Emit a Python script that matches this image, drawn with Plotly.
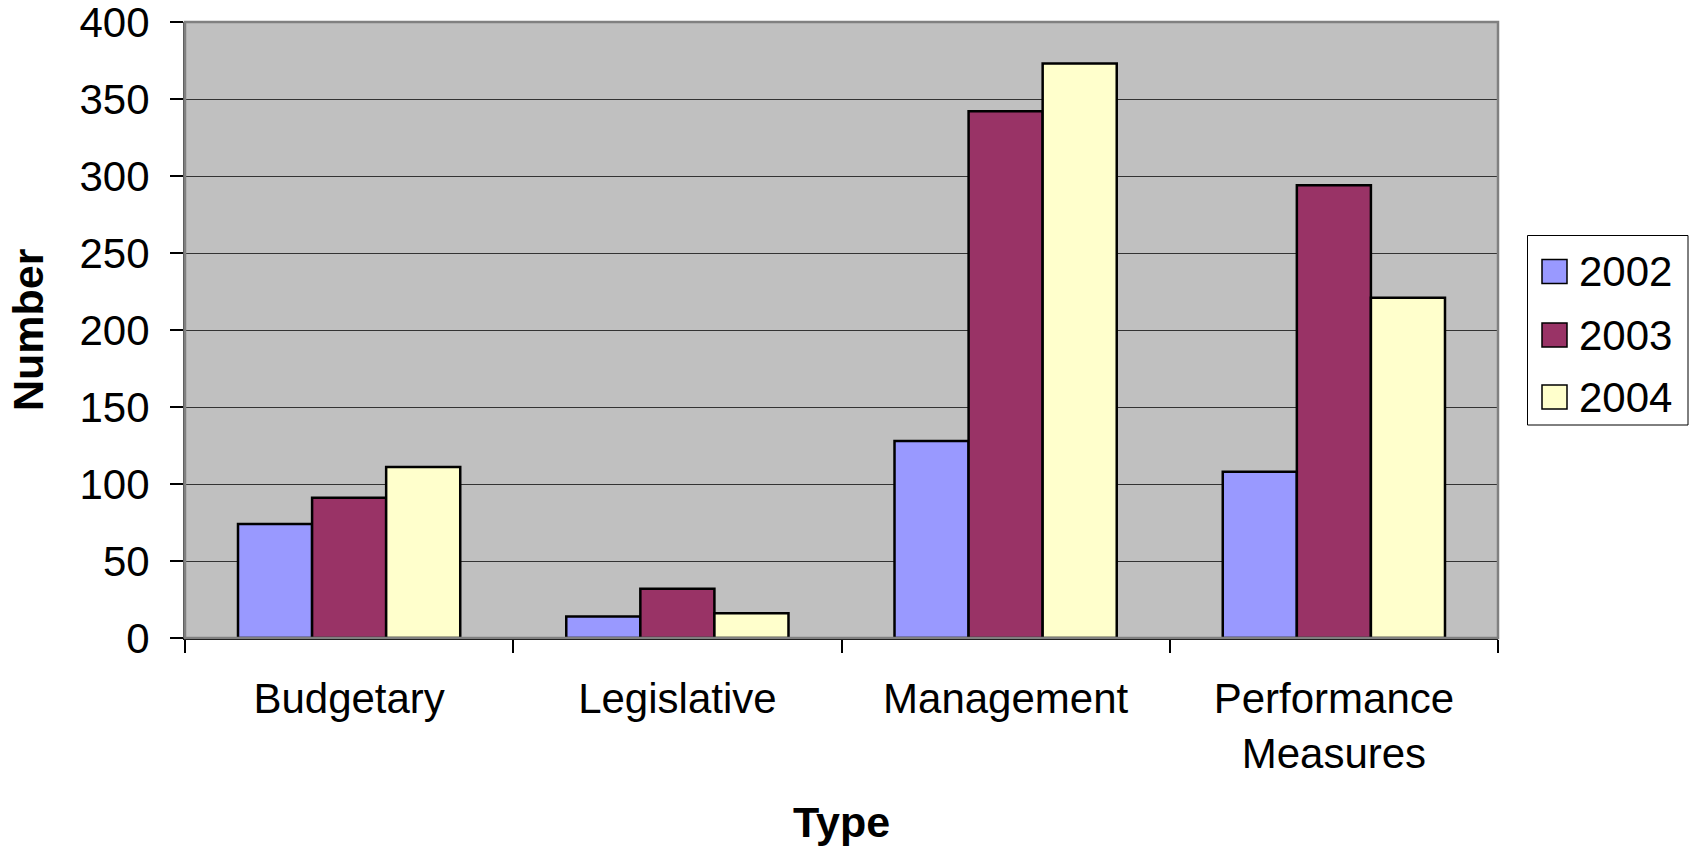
import plotly.graph_objects as go

# Counts by type and year
categories = ["Budgetary", "Legislative", "Management", "Performance<br>Measures"]
years = ["2002", "2003", "2004"]
counts_2002 = [74, 14, 128, 108]
counts_2003 = [91, 32, 342, 294]
counts_2004 = [111, 16, 373, 221]
series = [counts_2002, counts_2003, counts_2004]
colors = ["#9999FF", "#993366", "#FFFFCC"]

y_ticks = [0, 50, 100, 150, 200, 250, 300, 350, 400]

FONT = "Liberation Sans, Arial, sans-serif"
FS = 42
FS_TITLE = 43

W, H = 1690, 847
ML, MR, MT, MB = 185, 192, 22, 209
PW = W - ML - MR
PH = H - MT - MB


def px_x(x):
    return (x - ML) / PW


def px_y(y):
    return (H - MB - y) / PH


fig = go.Figure()
for name, vals, col in zip(years, series, colors):
    fig.add_trace(go.Bar(
        x=categories, y=vals, name=name,
        marker=dict(color=col, line=dict(color="black", width=2.5)),
        showlegend=False,
    ))

# Plot-area frame (top and right edges in grey)
shapes = [dict(type="rect", xref="paper", yref="paper", x0=0, x1=1, y0=0, y1=1,
               line=dict(color="#808080", width=2.5), fillcolor="rgba(0,0,0,0)",
               layer="above")]
annotations = []

# Legend box with square swatches
shapes.append(dict(type="rect", xref="paper", yref="paper",
                   x0=px_x(1527.5), x1=px_x(1688), y0=px_y(425), y1=px_y(235.5),
                   line=dict(color="#000000", width=1), fillcolor="white"))
item_y = [271.5, 335, 397]
for name, col, yc in zip(years, colors, item_y):
    shapes.append(dict(type="rect", xref="paper", yref="paper",
                       x0=px_x(1542), x1=px_x(1567), y0=px_y(yc + 12), y1=px_y(yc - 12),
                       line=dict(color="black", width=1.5), fillcolor=col))
    annotations.append(dict(text=name, xref="paper", yref="paper",
                            x=px_x(1577), y=px_y(yc), xanchor="left", yanchor="middle",
                            showarrow=False, font=dict(family=FONT, size=FS, color="black")))

# Axis titles
annotations.append(dict(text="<b>Type</b>", xref="paper", yref="paper",
                        x=0.5, y=px_y(822), xanchor="center", yanchor="middle",
                        showarrow=False, font=dict(family=FONT, size=FS_TITLE, color="black")))
annotations.append(dict(text="<b>Number</b>", xref="paper", yref="paper",
                        x=px_x(28), y=0.5, xanchor="center", yanchor="middle", textangle=-90,
                        showarrow=False, font=dict(family=FONT, size=FS_TITLE, color="black")))

fig.update_layout(
    width=W, height=H,
    margin=dict(l=ML, r=MR, t=MT, b=MB, pad=0),
    paper_bgcolor="white",
    plot_bgcolor="#C0C0C0",
    barmode="group",
    bargap=0.323,
    bargroupgap=0,
    font=dict(family=FONT, size=FS, color="black"),
    shapes=shapes,
    annotations=annotations,
    showlegend=False,
)

fig.update_xaxes(
    type="category",
    tickson="boundaries",
    ticks="outside", ticklen=13, tickwidth=1.5, tickcolor="black",
    showline=True, linecolor="black", linewidth=1.5,
    showgrid=False,
    tickfont=dict(family=FONT, size=FS, color="black"),
    ticklabelstandoff=23,
    automargin=False,
)

fig.update_yaxes(
    range=[0, 400],
    tickvals=y_ticks,
    ticktext=[str(v) for v in y_ticks],
    ticks="outside", ticklen=13, tickwidth=1.5, tickcolor="black",
    showline=True, linecolor="#555555", linewidth=2,
    showgrid=True, gridcolor="#333333", gridwidth=1,
    zeroline=False,
    tickfont=dict(family=FONT, size=FS, color="black"),
    ticklabelstandoff=12,
    ticklabeloverflow="allow",
    automargin=False,
)

fig.write_html("out.html")
